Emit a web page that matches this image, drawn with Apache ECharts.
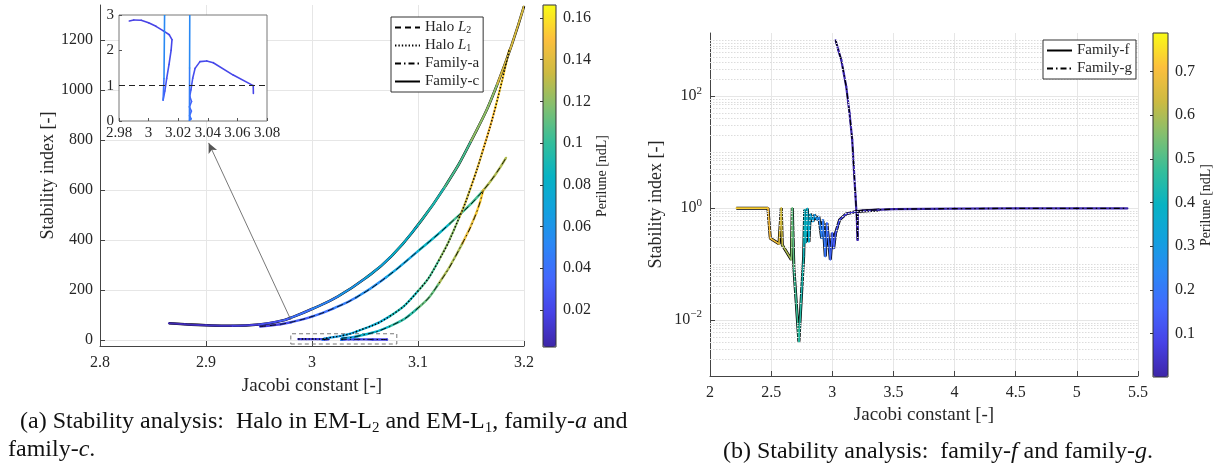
<!DOCTYPE html>
<html>
<head>
<meta charset="utf-8">
<script src="https://cdn.jsdelivr.net/npm/echarts@6/dist/echarts.min.js"></script>
<style>
html, body { margin: 0; padding: 0; background: #fff; }
#chart { width: 1215px; height: 467px; }
</style>
</head>
<body>
<div id="chart"></div>
<script>
// ---- (a) Halo L2 / L1, family-a, family-c : [Jacobi, stability, perilune]
const famC_x = [2.865, 2.88, 2.9, 2.925, 2.95, 2.97, 2.98, 3.0, 3.025, 3.05, 3.075, 3.1, 3.125, 3.15, 3.175, 3.2];
const famC_y = [66, 62, 58, 56, 61, 75, 88, 123, 175, 245, 335, 460, 610, 795, 1025, 1335];
const famC_p = [0.004, 0.005, 0.008, 0.012, 0.02, 0.028, 0.033, 0.045, 0.055, 0.066, 0.076, 0.086, 0.098, 0.112, 0.128, 0.146];

const haloL2_x = [2.951, 2.97, 2.98, 3.0, 3.02, 3.042, 3.07, 3.1, 3.13, 3.161, 3.183];
const haloL2_y = [53, 62, 70, 93, 125, 170, 250, 355, 465, 595, 728];
const haloL2_p = [0.012, 0.02, 0.025, 0.035, 0.043, 0.05, 0.062, 0.075, 0.093, 0.115, 0.14];

const haloL1_x = [2.987, 2.99, 2.995, 3.0, 3.005, 3.01, 3.014, 3.0158, 3.0152, 3.0138, 3.0122, 3.011, 3.0098, 3.0104, 3.0108, 3.012, 3.016, 3.03, 3.042, 3.073, 3.1, 3.12, 3.139, 3.15, 3.161, 3.173, 3.186];
const haloL1_y = [2.83, 2.86, 2.85, 2.78, 2.68, 2.55, 2.44, 2.3, 2.0, 1.6, 1.2, 0.85, 0.59, 1.2, 3.0, 5, 8, 18, 33, 93, 195, 320, 490, 612, 755, 930, 1160];
const haloL1_p = [0.018, 0.018, 0.018, 0.019, 0.019, 0.02, 0.02, 0.021, 0.022, 0.024, 0.026, 0.028, 0.03, 0.05, 0.055, 0.06, 0.063, 0.068, 0.072, 0.082, 0.098, 0.112, 0.128, 0.138, 0.146, 0.152, 0.156];

const famA_x = [3.0708, 3.0707, 3.0572, 3.0437, 3.0393, 3.0347, 3.0314, 3.0298, 3.0286, 3.0278, 3.029, 3.0276, 3.0289, 3.0277, 3.0287, 3.0276, 3.0277, 3.0279, 3.0285, 3.042, 3.073, 3.1, 3.12, 3.142, 3.155, 3.1615];
const famA_y = [0.78, 1.0, 1.3, 1.65, 1.7, 1.68, 1.49, 1.21, 0.88, 0.7, 0.55, 0.4, 0.28, 0.15, 0.06, 0.02, 1.5, 4, 6, 13, 53, 127, 227, 387, 507, 598];
const famA_p = [0.02, 0.02, 0.021, 0.021, 0.022, 0.022, 0.023, 0.025, 0.028, 0.03, 0.032, 0.034, 0.036, 0.038, 0.04, 0.042, 0.05, 0.055, 0.06, 0.075, 0.088, 0.105, 0.118, 0.135, 0.15, 0.156];

// ---- (b) family-f, family-g
const famF_x = [2.215, 2.474, 2.493, 2.564, 2.583, 2.591, 2.665, 2.673, 2.686, 2.727, 2.747, 2.766, 2.774, 2.782, 2.796, 2.809, 2.82, 2.842, 2.855, 2.874, 2.89, 2.913, 2.923, 2.943, 2.956, 2.984, 3.0, 3.011, 3.027, 3.06, 3.114, 3.196, 3.386];
const famF_y = [1.0, 1.0, 0.29, 0.23, 1.0, 0.22, 0.12, 1.0, 0.085, 0.0041, 0.026, 0.137, 0.93, 0.24, 0.98, 0.25, 0.79, 0.58, 0.76, 0.62, 0.71, 0.29, 0.62, 0.137, 0.54, 0.12, 0.36, 0.19, 0.36, 0.62, 0.79, 0.87, 0.93];
const famF_p = [0.74, 0.72, 0.7, 0.68, 0.64, 0.62, 0.58, 0.53, 0.5, 0.46, 0.44, 0.42, 0.4, 0.39, 0.38, 0.37, 0.34, 0.32, 0.3, 0.27, 0.25, 0.23, 0.22, 0.2, 0.18, 0.16, 0.15, 0.14, 0.12, 0.1, 0.07, 0.04, 0.02];

const famG_x = [3.027, 3.05, 3.0735, 3.095, 3.114, 3.141, 3.163, 3.177, 3.19, 3.201, 3.207, 3.21, 3.25, 3.3, 3.5, 4.0, 4.5, 5.0, 5.413];
const famG_y = [1000, 660, 445, 250, 148, 50, 16.6, 4.8, 1.62, 0.62, 0.27, 0.88, 0.9, 0.92, 0.96, 0.98, 0.99, 0.99, 0.99];
const famG_p = [0.012, 0.012, 0.012, 0.011, 0.011, 0.011, 0.011, 0.01, 0.01, 0.01, 0.01, 0.01, 0.01, 0.01, 0.009, 0.009, 0.008, 0.008, 0.008];

// tick labels
const ticksA_y = [0, 200, 400, 600, 800, 1000, 1200];
const ticksA_cb = [0.02, 0.04, 0.06, 0.08, 0.1, 0.12, 0.14, 0.16];
const ticksB_ylog = [-2, 0, 2];
const ticksB_cb = [0.1, 0.2, 0.3, 0.4, 0.5, 0.6, 0.7];

const PARULA = ['#3e26a8', '#4742e6', '#4367fd', '#2b87f5', '#12a1de', '#07b3c3',
  '#35be9a', '#80bf71', '#ccba42', '#fcbf3d', '#f9fb15'];
const FONT = '"Liberation Serif", "Times New Roman", serif';
const TXT = '#262626';
const SMOOTH = 0.5;

const lin = v => v;
const lg = v => Math.log10(v);

// segment items: [x1, y1, perilune, x2, y2, xPrev, yPrev, xNext, yNext]
function segData (xs, ys, ps, ty) {
  const out = [];
  const n = xs.length;
  for (let i = 0; i < n - 1; i++) {
    const a = i > 0 ? i - 1 : i;
    const d = i + 2 < n ? i + 2 : i + 1;
    out.push([xs[i], ty(ys[i]), (ps[i] + ps[i + 1]) / 2, xs[i + 1], ty(ys[i + 1]),
      xs[a], ty(ys[a]), xs[d], ty(ys[d])]);
  }
  return out;
}
function lineData (xs, ys, ty) {
  return xs.map((x, i) => [x, ty(ys[i])]);
}
function dist (p, q) { return Math.hypot(p[0] - q[0], p[1] - q[1]); }
function makeRender (w, smooth) {
  return function (params, api) {
    const p1 = api.coord([api.value(0), api.value(1)]);
    const p2 = api.coord([api.value(3), api.value(4)]);
    const p0 = api.coord([api.value(5), api.value(6)]);
    const p3 = api.coord([api.value(7), api.value(8)]);
    const cs = params.coordSys;
    const style = { stroke: api.visual('color'), lineWidth: w, lineCap: 'round', fill: null };
    const clip = { type: 'rect', shape: { x: cs.x, y: cs.y, width: cs.width, height: cs.height } };
    if (!smooth) {
      return { type: 'line', shape: { x1: p1[0], y1: p1[1], x2: p2[0], y2: p2[1] }, style, clipPath: clip };
    }
    const d01 = dist(p0, p1), d12 = dist(p1, p2), d23 = dist(p2, p3);
    let c1 = p1, c2 = p2;
    if (d01 > 0 && d12 > 0) {
      const r = smooth * d12 / (d01 + d12);
      c1 = [p1[0] + (p2[0] - p0[0]) * r, p1[1] + (p2[1] - p0[1]) * r];
    }
    if (d23 > 0 && d12 > 0) {
      const r = smooth * d12 / (d12 + d23);
      c2 = [p2[0] - (p3[0] - p1[0]) * r, p2[1] - (p3[1] - p1[1]) * r];
    }
    return {
      type: 'bezierCurve',
      shape: { x1: p1[0], y1: p1[1], x2: p2[0], y2: p2[1], cpx1: c1[0], cpy1: c1[1], cpx2: c2[0], cpy2: c2[1] },
      style, clipPath: clip
    };
  };
}

const series = [];
const vmA = [];
const vmB = [];
// colored line (by perilune) + black line style on top or below
function addFamily (o) {
  o.vm.push(series.length);
  series.push({
    type: 'custom', xAxisIndex: o.ax, yAxisIndex: o.ax, silent: true, clip: true,
    z: o.below ? 4 : 3, renderItem: makeRender(o.colW, o.smooth ? SMOOTH : 0),
    encode: { x: [0, 3], y: [1, 4] },
    data: segData(o.xs, o.ys, o.ps, o.ty)
  });
  if (o.black) {
    series.push({
      type: 'line', name: o.name, xAxisIndex: o.ax, yAxisIndex: o.ax, silent: true,
      symbol: 'none', z: o.below ? 3 : 4, smooth: o.smooth ? SMOOTH : false,
      itemStyle: { color: '#000' },
      lineStyle: { color: '#000', width: o.black.w, type: o.black.type },
      data: lineData(o.xs, o.ys, o.ty)
    });
  }
}

const DASH = [6, 4];
const DOT = [1.4, 2];
const DASHDOT = [6, 3, 1.5, 3];

addFamily({ name: 'Halo L2', xs: haloL2_x, ys: haloL2_y, ps: haloL2_p, ax: 0, ty: lin, colW: 2.4, smooth: true, vm: vmA, black: { w: 0.9, type: DASH } });
addFamily({ name: 'Halo L1', xs: haloL1_x, ys: haloL1_y, ps: haloL1_p, ax: 0, ty: lin, colW: 2.2, smooth: true, vm: vmA, black: { w: 1.4, type: DOT } });
addFamily({ name: 'Family-a', xs: famA_x, ys: famA_y, ps: famA_p, ax: 0, ty: lin, colW: 2.4, smooth: true, vm: vmA, black: { w: 0.9, type: DASHDOT } });
addFamily({ name: 'Family-c', xs: famC_x, ys: famC_y, ps: famC_p, ax: 0, ty: lin, colW: 2.0, smooth: true, vm: vmA, below: true, black: { w: 2.6, type: 'solid' } });
// inset
addFamily({ name: 'L1-inset', xs: haloL1_x, ys: haloL1_y, ps: haloL1_p, ax: 1, ty: lin, colW: 1.6, vm: vmA });
addFamily({ name: 'a-inset', xs: famA_x, ys: famA_y, ps: famA_p, ax: 1, ty: lin, colW: 1.6, vm: vmA });
// (b)
addFamily({ name: 'Family-f', xs: famF_x, ys: famF_y, ps: famF_p, ax: 3, ty: lg, colW: 1.6, vm: vmB, below: true, black: { w: 3, type: 'solid' } });
addFamily({ name: 'Family-g', xs: famG_x, ys: famG_y, ps: famG_p, ax: 3, ty: lg, colW: 2.2, vm: vmB, black: { w: 1.3, type: DASHDOT } });

// annotations: zoom box + arrow in (a), y = 1 in the inset, minor log grid in (b)
series.push({
  type: 'line', xAxisIndex: 0, yAxisIndex: 0, data: [], silent: true, z: 5,
  markArea: {
    silent: true,
    itemStyle: { color: 'rgba(0,0,0,0)', borderColor: '#777', borderWidth: 1, borderType: [4, 3] },
    data: [[{ coord: [2.98, -17] }, { coord: [3.08, 24] }]]
  },
  markLine: {
    silent: true, symbol: ['none', 'arrow'], symbolSize: [7, 10],
    label: { show: false },
    lineStyle: { color: '#555', width: 0.8, type: 'solid' },
    data: [[{ coord: [2.98, 80] }, { coord: [2.9025, 788] }]]
  }
});
series.push({
  type: 'line', xAxisIndex: 1, yAxisIndex: 1, data: [], silent: true, z: 5,
  markLine: {
    silent: true, symbol: 'none', label: { show: false },
    lineStyle: { color: '#222', width: 1.2, type: [6, 4] },
    data: [{ yAxis: 1 }]
  }
});
const minorLog = [];
for (let n = -3; n <= 3; n++) {
  for (let k = 1; k <= 9; k++) {
    const v = Math.log10(k) + n;
    if (k === 1 && n % 2 === 0) continue;
    if (v <= -3 || v >= 3.13) continue;
    minorLog.push({ yAxis: v });
  }
}
series.push({
  type: 'line', xAxisIndex: 3, yAxisIndex: 3, data: [], silent: true, z: 1,
  markLine: {
    silent: true, symbol: 'none', label: { show: false },
    lineStyle: { color: '#dcdcdc', width: 1, type: [1.5, 1.5] },
    data: minorLog
  }
});

const tickLbl = { fontFamily: FONT, fontSize: 16, color: TXT };
const nameStyle = { fontFamily: FONT, fontSize: 18, color: TXT };
const axLine = { show: true, onZero: false, lineStyle: { color: '#444', width: 1 } };
const axTick = { show: true, inside: true, length: 5, lineStyle: { color: '#444' } };
const gridLine = { show: true, lineStyle: { color: '#e6e6e6', width: 1 } };

const subRich = {
  it: { fontFamily: FONT, fontSize: 15, lineHeight: 15, fontStyle: 'italic', color: TXT },
  sub: { fontFamily: FONT, fontSize: 10, lineHeight: 8, verticalAlign: 'bottom', color: TXT }
};
const legendBase = {
  orient: 'vertical', itemWidth: 25, itemHeight: 14, itemGap: 3, padding: [3, 4, 3, 3],
  selectedMode: false, borderColor: '#333', borderWidth: 1, backgroundColor: '#fff', z: 6,
  itemStyle: { opacity: 0 }
};

const option = {
  animation: false,
  backgroundColor: '#fff',
  grid: [
    { left: 100, top: 5, width: 424, height: 341 },
    { left: 119, top: 15, width: 148, height: 106, show: true, backgroundColor: '#fff', borderColor: '#777', borderWidth: 1, z: 1 },
    { left: 543, top: 5, width: 13, height: 342, show: true, backgroundColor: 'rgba(0,0,0,0)', borderColor: '#333', borderWidth: 1, z: 5 },
    { left: 710, top: 33, width: 428, height: 343 },
    { left: 1153, top: 33, width: 15, height: 344, show: true, backgroundColor: 'rgba(0,0,0,0)', borderColor: '#333', borderWidth: 1, z: 5 }
  ],
  xAxis: [
    { gridIndex: 0, type: 'value', min: 2.8, max: 3.2, interval: 0.1, axisLine: axLine, axisTick: axTick,
      axisLabel: Object.assign({ margin: 9 }, tickLbl), splitLine: gridLine,
      name: 'Jacobi constant [-]', nameLocation: 'middle', nameGap: 31,
      nameTextStyle: Object.assign({}, nameStyle, { fontSize: 19 }) },
    { gridIndex: 1, type: 'value', min: 2.98, max: 3.08, interval: 0.02, z: 2, axisLine: { show: false },
      axisTick: { inside: true, length: 3, lineStyle: { color: '#555' } },
      axisLabel: Object.assign({ margin: 5 }, tickLbl, { fontSize: 15 }), splitLine: { show: false } },
    { gridIndex: 2, type: 'value', show: false, min: 0, max: 1 },
    { gridIndex: 3, type: 'value', min: 2, max: 5.5, interval: 0.5, axisLine: axLine, axisTick: axTick,
      axisLabel: Object.assign({ margin: 9 }, tickLbl), splitLine: gridLine,
      name: 'Jacobi constant [-]', nameLocation: 'middle', nameGap: 29,
      nameTextStyle: Object.assign({}, nameStyle, { fontSize: 19 }) },
    { gridIndex: 4, type: 'value', show: false, min: 0, max: 1 }
  ],
  yAxis: [
    { gridIndex: 0, type: 'value', min: -25, max: 1340, axisLine: axLine,
      axisTick: Object.assign({ customValues: ticksA_y }, axTick),
      axisLabel: Object.assign({ margin: 7, customValues: ticksA_y, formatter: v => String(v) }, tickLbl),
      splitLine: gridLine,
      name: 'Stability index [-]', nameLocation: 'middle', nameGap: 43, nameTextStyle: nameStyle },
    { gridIndex: 1, type: 'value', min: 0, max: 3, interval: 1, z: 2, axisLine: { show: false },
      axisTick: { inside: true, length: 3, lineStyle: { color: '#555' } },
      axisLabel: Object.assign({ margin: 5 }, tickLbl, { fontSize: 15 }), splitLine: { show: false } },
    { gridIndex: 2, type: 'value', position: 'right', min: 0.00226, max: 0.1662, z: 6,
      axisLine: { show: false }, splitLine: { show: false },
      axisTick: { inside: true, length: 3, customValues: ticksA_cb, lineStyle: { color: '#333' } },
      axisLabel: Object.assign({ margin: 7, customValues: ticksA_cb }, tickLbl),
      name: 'Perilune [ndL]', nameLocation: 'middle', nameRotate: 90, nameGap: 37,
      nameTextStyle: { fontFamily: FONT, fontSize: 14, color: TXT } },
    { gridIndex: 3, type: 'value', min: -3, max: 3.13, axisLine: axLine,
      axisTick: Object.assign({ customValues: ticksB_ylog }, axTick),
      axisLabel: Object.assign({ margin: 8, customValues: ticksB_ylog, lineHeight: 22,
        formatter: v => '10{s|' + (v < 0 ? '\u2212' + (-v) : v) + '}',
        rich: { s: { fontFamily: FONT, fontSize: 11, lineHeight: 11, verticalAlign: 'top', color: TXT } } }, tickLbl),
      splitLine: gridLine,
      name: 'Stability index [-]', nameLocation: 'middle', nameGap: 45, nameTextStyle: nameStyle },
    { gridIndex: 4, type: 'value', position: 'right', min: 0.0005, max: 0.788, z: 6,
      axisLine: { show: false }, splitLine: { show: false },
      axisTick: { inside: true, length: 3, customValues: ticksB_cb, lineStyle: { color: '#333' } },
      axisLabel: Object.assign({ margin: 7, customValues: ticksB_cb }, tickLbl),
      name: 'Perilune [ndL]', nameLocation: 'middle', nameRotate: 90, nameGap: 31,
      nameTextStyle: { fontFamily: FONT, fontSize: 14, color: TXT } }
  ],
  visualMap: [
    { type: 'continuous', min: 0.00226, max: 0.1662, dimension: 2, seriesIndex: vmA,
      inRange: { color: PARULA }, left: 543, top: 5, itemWidth: 13, itemHeight: 342,
      padding: 0, calculable: false, hoverLink: false, text: null },
    { type: 'continuous', min: 0.0005, max: 0.788, dimension: 2, seriesIndex: vmB,
      inRange: { color: PARULA }, left: 1153, top: 33, itemWidth: 15, itemHeight: 344,
      padding: 0, calculable: false, hoverLink: false, text: null }
  ],
  legend: [
    Object.assign({ data: ['Halo L2', 'Halo L1', 'Family-a', 'Family-c'], left: 391, top: 17,
      textStyle: { fontFamily: FONT, fontSize: 15, color: TXT, lineHeight: 15, rich: subRich },
      formatter: n => n === 'Halo L2' ? 'Halo {it|L}{sub|2}' : (n === 'Halo L1' ? 'Halo {it|L}{sub|1}' : n) }, legendBase),
    Object.assign({ data: ['Family-f', 'Family-g'], left: 1043, top: 40,
      textStyle: { fontFamily: FONT, fontSize: 15, color: TXT, lineHeight: 15 } }, legendBase)
  ],
  graphic: [
    { type: 'text', x: 20, y: 422, style: {
      text: '(a) Stability analysis:  Halo in EM-L{s|2} and EM-L{s|1}, family-{i|a} and',
      fontFamily: FONT, fontSize: 24, fill: '#111', verticalAlign: 'middle', lineHeight: 28,
      rich: { s: { fontFamily: FONT, fontSize: 15, lineHeight: 15, verticalAlign: 'bottom', fill: '#111' },
        i: { fontFamily: FONT, fontSize: 24, fontStyle: 'italic', fill: '#111' } } } },
    { type: 'text', x: 8, y: 450, style: {
      text: 'family-{i|c}.', fontFamily: FONT, fontSize: 24, fill: '#111', verticalAlign: 'middle',
      rich: { i: { fontFamily: FONT, fontSize: 24, fontStyle: 'italic', fill: '#111' } } } },
    { type: 'text', x: 723, y: 452, style: {
      text: '(b) Stability analysis:  family-{i|f} and family-{i|g}.', fontFamily: FONT, fontSize: 24,
      fill: '#111', verticalAlign: 'middle',
      rich: { i: { fontFamily: FONT, fontSize: 24, fontStyle: 'italic', fill: '#111' } } } }
  ],
  series: series
};

const myChart = echarts.init(document.getElementById('chart'));
myChart.setOption(option);
</script>
</body>
</html>
